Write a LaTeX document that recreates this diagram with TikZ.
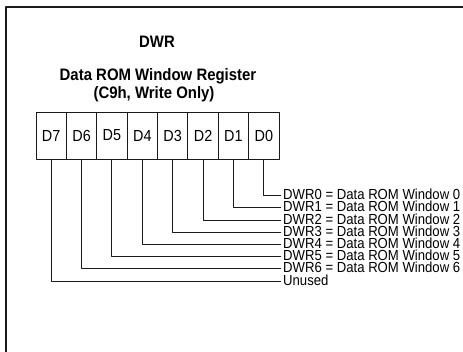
\documentclass[tikz,border=0pt]{standalone}
\usepackage{fontspec}
\setmainfont{Liberation Sans}[FakeStretch=0.9]
\definecolor{regink}{HTML}{1A1A1A}
\tikzset{
  reg frame/.style={regink, line width=1.1pt},
  bit cell/.style={draw=regink, line width=0.9pt, minimum width=30.4pt, minimum height=47pt, inner sep=0pt, font=\fontsize{16}{18}\selectfont},
  bit wire/.style={regink, line width=1.1pt},
  bit label/.style={anchor=west, inner sep=0pt, text height=9.5pt, text depth=1.5pt, font=\fontsize{14.6}{16}\selectfont},
  reg title/.style={inner sep=0pt, font=\fontsize{16.6}{18}\bfseries\selectfont},
}

\begin{document}
\begin{tikzpicture}[x=1pt, y=-1pt, line cap=round, line join=round]
  \useasboundingbox (0,0) rectangle (463,352);
  \draw[reg frame] (6,352) -- (6,7) -- (463,7);

  \node[reg title] (name) at (157,42) {DWR};
  \node[reg title] (long) at (158,76) {Data ROM Window Register};
  \node[reg title] (addr) at (154,94.5) {(C9h, Write Only)};

  % register cells, D7 on the left
  \foreach \b in {0,...,7}
    \node[bit cell] (d\b) at ({36+(7-\b)*30.375+15.19},135.5) {D\b};

  % one line per bit, D0 on top
  \foreach \b/\txt in {0/DWR0 = Data ROM Window 0, 1/DWR1 = Data ROM Window 1,
      2/DWR2 = Data ROM Window 2, 3/DWR3 = Data ROM Window 3,
      4/DWR4 = Data ROM Window 4, 5/DWR5 = Data ROM Window 5,
      6/DWR6 = Data ROM Window 6, 7/Unused} {
    \node[bit label] (l\b) at (283,{195.7+\b*12.2}) {\txt};
    \draw[bit wire] (d\b.south) |- ([xshift=-2.5pt]l\b.west);
  }
\end{tikzpicture}
\end{document}
